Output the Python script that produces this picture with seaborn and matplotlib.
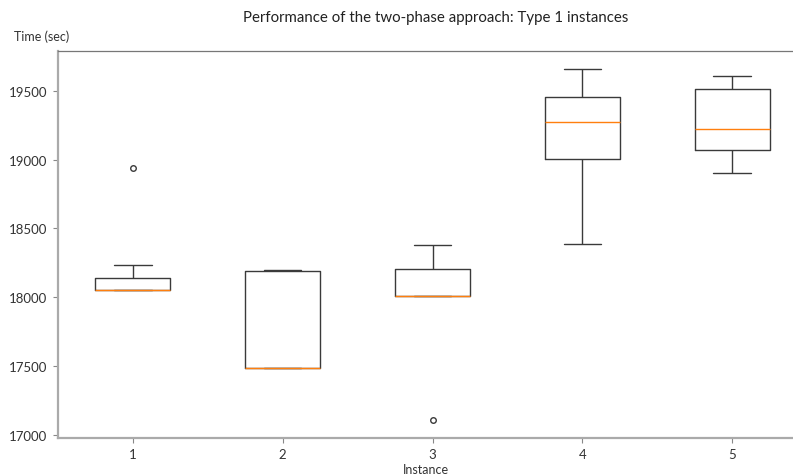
import matplotlib
matplotlib.use("Agg")
import matplotlib.pyplot as plt
import seaborn as sns
import pandas as pd

# Run times (sec) per instance, estimated from the reference boxplot
instances = ["1", "2", "3", "4", "5"]
times_1 = [18051, 18051, 18051, 18051, 18051, 18100, 18143, 18235, 18942]
times_2 = [17488, 17488, 17488, 17488, 17488, 18000, 18189, 18195, 18201]
times_3 = [17104, 18010, 18010, 18010, 18010, 18100, 18204, 18300, 18381]
times_4 = [18388, 18700, 19005, 19150, 19272, 19380, 19454, 19550, 19662]
times_5 = [18903, 19000, 19070, 19150, 19221, 19400, 19510, 19560, 19609]

title = "Performance of the two-phase approach: Type 1 instances"
xlabel = "Instance"
ylabel = "Time (sec)"

rows = []
for name, vals in zip(instances, [times_1, times_2, times_3, times_4, times_5]):
    for v in vals:
        rows.append({"Instance": name, "Time": v})
df = pd.DataFrame(rows)

sns.set_style("white")
plt.rcParams["font.family"] = ["Lato", "DejaVu Sans"]

W, H = 793, 477
fig = plt.figure(figsize=(W / 100, H / 100), dpi=100)
left, right, top, bottom = 58, 807, 52, 439
ax = fig.add_axes([left / W, (H - bottom) / H, (right - left) / W, (bottom - top) / H])

line_c = "#3a3a3a"
sns.boxplot(
    data=df, x="Instance", y="Time", order=instances, ax=ax,
    fill=False, color=line_c, linecolor=line_c, width=0.5, linewidth=1.0,
    whis=1.5, fliersize=4,
    medianprops=dict(color="#ff7f0e", linewidth=1.0),
    flierprops=dict(marker="o", markerfacecolor="none", markeredgecolor=line_c),
)
ax.set_xlim(-0.5, 4.5)
ax.set_yticks([17000, 17500, 18000, 18500, 19000, 19500])

ax.set_xlabel("")
ax.set_ylabel("")
fig.text(426 / W, 1 - 470 / H, xlabel, fontsize=9, color="#333333", ha="center", va="center")
fig.text(14 / W, 1 - 37 / H, ylabel, fontsize=9, color="#333333", ha="left", va="center")
fig.text(436 / W, 1 - 18 / H, title, fontsize=10.8, color="#222222", ha="center", va="center")

for s in ["left", "bottom"]:
    ax.spines[s].set_color("#aaaaaa")
    ax.spines[s].set_linewidth(1.6)
ax.spines["top"].set_color("#777777")
ax.spines["top"].set_linewidth(0.9)
ax.spines["right"].set_visible(False)
ax.tick_params(axis="both", labelsize=9.5, labelcolor="#333333", color="#888888",
               length=3.5, width=0.8, left=True, bottom=True, pad=4)

fig.savefig("out.png", dpi=100)
